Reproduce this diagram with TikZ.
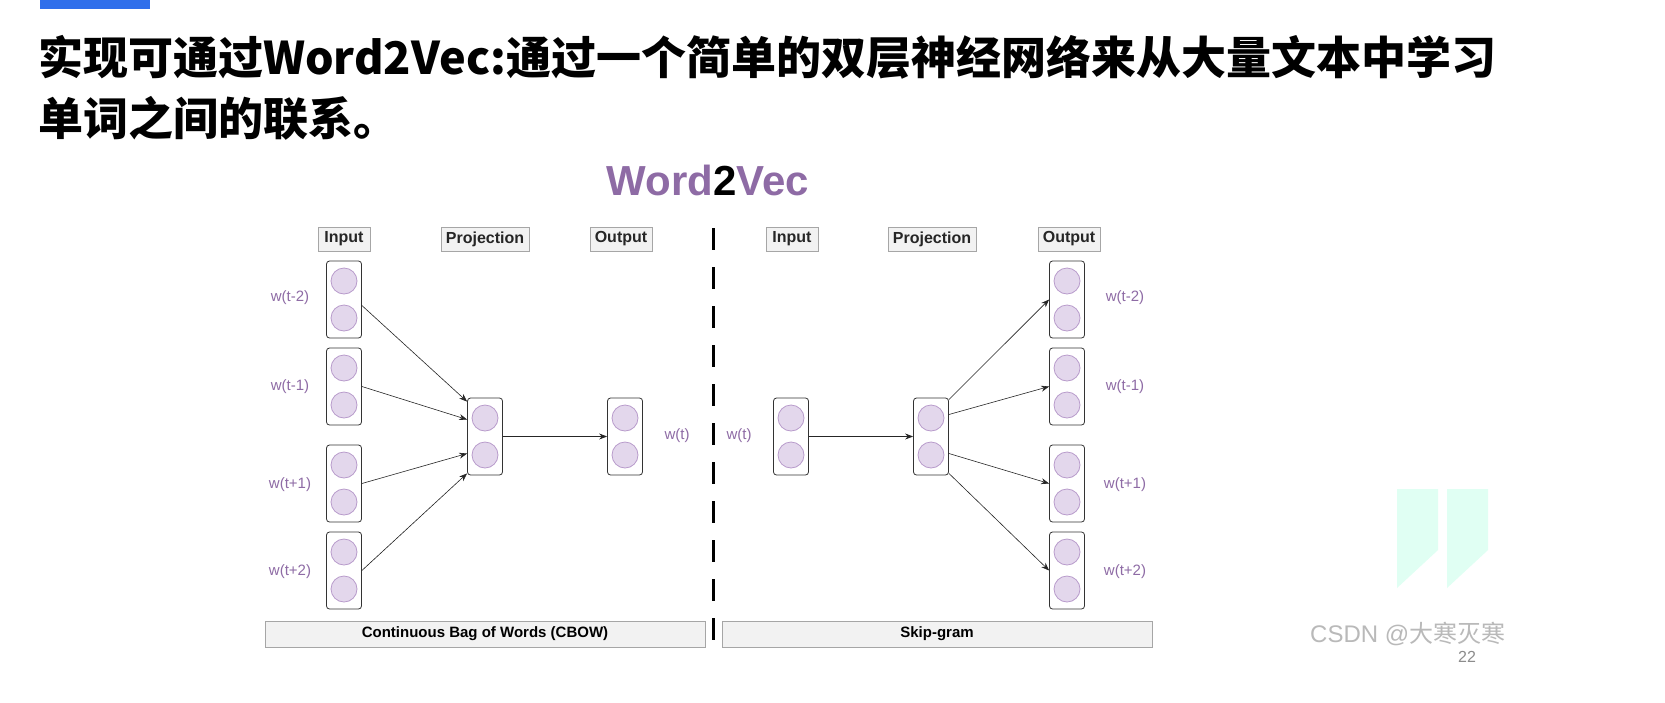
\documentclass[tikz,border=0pt]{standalone}
\usepackage{fontspec}
\setmainfont{Liberation Sans}
\newfontfamily\cjk{Noto Sans CJK SC}
\usetikzlibrary{arrows.meta}
\definecolor{pur}{HTML}{8E6BA5}
\definecolor{cfill}{HTML}{E3D7EC}
\definecolor{cline}{HTML}{B89BCB}
\definecolor{hdr}{HTML}{F2F2F2}
\definecolor{topbar}{HTML}{2F6FEB}
\begin{document}
\begin{tikzpicture}[x=1pt,y=-1pt,
  hdr/.style={draw=gray!70,fill=hdr,inner sep=0pt,minimum height=24pt,font=\fontsize{16}{16}\selectfont\bfseries,text=black!85},
  vec/.style={draw=black!80,rounded corners=3pt,line width=0.8pt,minimum width=35pt,minimum height=77pt,inner sep=0pt},
  cir/.style={circle,draw=cline,fill=cfill,line width=0.8pt,minimum size=26pt,inner sep=0pt},
  lab/.style={text=pur,font=\fontsize{15}{15}\selectfont},
  arr/.style={-{Stealth[length=8pt,width=6pt]},line width=0.6pt,black!85},
  bar/.style={draw=gray!70,fill=hdr,inner sep=0pt,minimum height=26pt,font=\fontsize{15}{15}\selectfont\bfseries}]
\useasboundingbox (0,0) rectangle (1665,702);
\fill[white] (0,0) rectangle (1665,702);
\fill[topbar] (40,0) rectangle (150,9);
\node[anchor=base west,inner sep=0pt,font=\cjk\bfseries\fontsize{45}{45}\selectfont] (t1) at (38,74) {实现可通过Word2Vec:通过一个简单的双层神经网络来从大量文本中学习};
\node[anchor=base west,inner sep=0pt,font=\cjk\bfseries\fontsize{45}{45}\selectfont] (t2) at (38,135) {单词之间的联系。};
\node[font=\fontsize{42}{42}\selectfont\bfseries,text=pur] (wv) at (708,180) {Word\textcolor{black}{2}Vec};
% headers
\node[hdr,minimum width=52pt] (h1) at (344,239) {Input};
\node[hdr,minimum width=88pt] (h2) at (485,239) {Projection};
\node[hdr,minimum width=62pt] (h3) at (621,239) {Output};
\node[hdr,minimum width=52pt] (h4) at (792,239) {Input};
\node[hdr,minimum width=88pt] (h5) at (932,239) {Projection};
\node[hdr,minimum width=62pt] (h6) at (1069,239) {Output};
\coordinate (dtop) at (713,228);
\coordinate (dbot) at (713,648);
\draw[line width=3pt,dash pattern=on 22pt off 17pt] (dtop) -- (dbot);
% vectors
\foreach \n/\x/\y in {a1/344/299.5,a2/344/386.5,a3/344/483.5,a4/344/570.5,p/485/436.5,o/625/436.5,
  ri/791/436.5,rp/931/436.5,b1/1067/299.5,b2/1067/386.5,b3/1067/483.5,b4/1067/570.5}{
  \node[vec] (\n) at (\x,\y) {};
  \node[cir] (\n c1) at (\x,\y-18.5) {};
  \node[cir] (\n c2) at (\x,\y+18.5) {};
}
\node[lab] (l1) at (290,298) {w(t-2)};
\node[lab] (l2) at (290,387) {w(t-1)};
\node[lab] (l3) at (290,485) {w(t+1)};
\node[lab] (l4) at (290,572) {w(t+2)};
\node[lab] (l5) at (677,436) {w(t)};
\node[lab] (l6) at (739,436) {w(t)};
\node[lab] (r1) at (1125,298) {w(t-2)};
\node[lab] (r2) at (1125,387) {w(t-1)};
\node[lab] (r3) at (1125,485) {w(t+1)};
\node[lab] (r4) at (1125,572) {w(t+2)};
% arrows
\draw[arr] ([yshift=-6pt]a1.east) -- ([yshift=-4pt]p.north west);
\draw[arr] (a2.east) -- ([yshift=17pt]p.west);
\draw[arr] (a3.east) -- ([yshift=-17pt]p.west);
\draw[arr] (a4.east) -- ([yshift=2pt]p.south west);
\draw[arr] (p.east) -- (o.west);
\draw[arr] (ri.east) -- (rp.west);
\draw[arr] ([yshift=-2pt]rp.north east) -- (b1.west);
\draw[arr] ([yshift=22pt]rp.east) -- (b2.west);
\draw[arr] ([yshift=-17pt]rp.east) -- (b3.west);
\draw[arr] ([yshift=2pt]rp.south east) -- (b4.west);
% bottom bars
\node[bar,minimum width=440pt] (cb) at (485,634) {Continuous Bag of Words (CBOW)};
\node[bar,minimum width=430pt] (sg) at (937,634) {Skip-gram};
% watermark
\fill[green!40!cyan!12] (1397,489) -- (1438,489) -- (1438,550) -- (1397,588) -- cycle;
\fill[green!40!cyan!12] (1447,489) -- (1488,489) -- (1488,550) -- (1447,588) -- cycle;
\node[text=gray!55,font=\fontsize{24}{24}\selectfont,anchor=base west,inner sep=0pt] (cs) at (1310,642) {CSDN @{\cjk 大寒灭寒}};
\node[text=gray!90,font=\fontsize{16}{16}\selectfont,anchor=base,inner sep=0pt] (pg) at (1467,662) {22};
\end{tikzpicture}
\end{document}
